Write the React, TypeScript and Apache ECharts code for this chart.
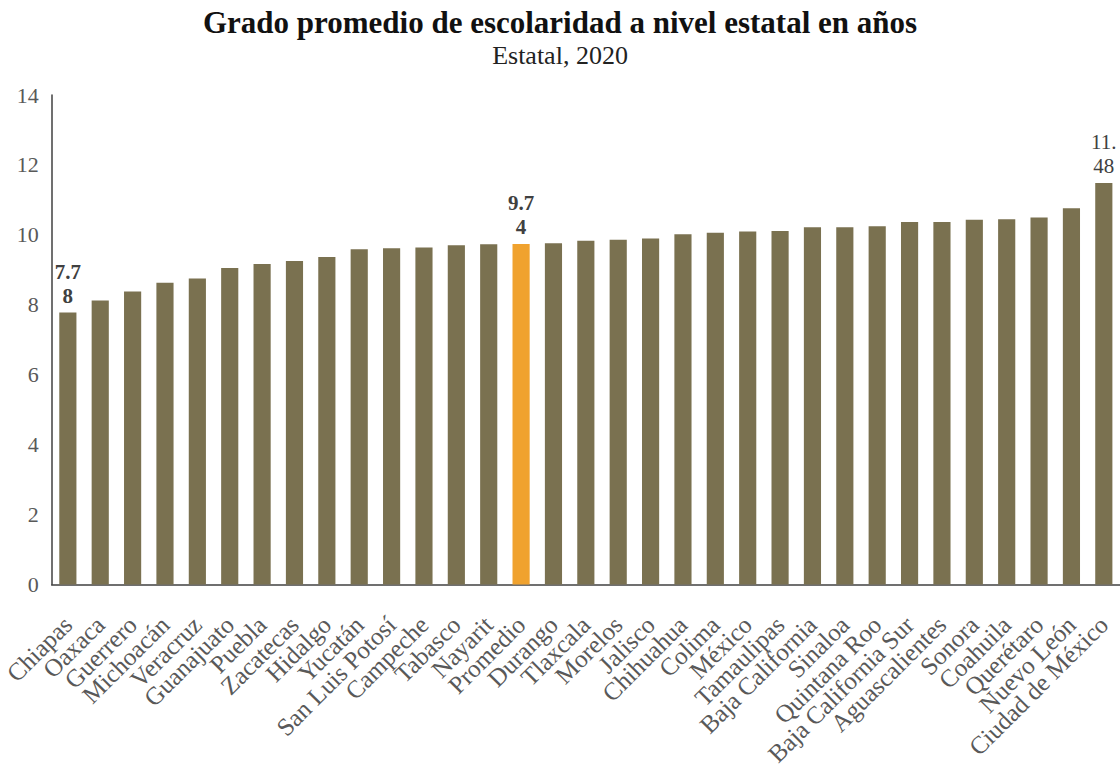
import React, { useEffect, useRef } from "react";
import * as echarts from "echarts";

const titleText = "Grado promedio de escolaridad a nivel estatal en años";
const subtitleText = "Estatal, 2020";

const states = [
  "Chiapas", "Oaxaca", "Guerrero", "Michoacán", "Veracruz", "Guanajuato", "Puebla",
  "Zacatecas", "Hidalgo", "Yucatán", "San Luis Potosí", "Campeche", "Tabasco", "Nayarit",
  "Promedio", "Durango", "Tlaxcala", "Morelos", "Jalisco", "Chihuahua", "Colima", "México",
  "Tamaulipas", "Baja California", "Sinaloa", "Quintana Roo", "Baja California Sur",
  "Aguascalientes", "Sonora", "Coahuila", "Querétaro", "Nuevo León", "Ciudad de México",
];

const values = [
  7.78, 8.12, 8.38, 8.63, 8.75, 9.05, 9.17, 9.25, 9.37, 9.59, 9.62, 9.64, 9.7, 9.73,
  9.74, 9.76, 9.83, 9.86, 9.9, 10.02, 10.06, 10.1, 10.11, 10.22, 10.22, 10.25, 10.37,
  10.37, 10.43, 10.45, 10.5, 10.76, 11.48,
];

const labelled = ["Chiapas", "Promedio", "Ciudad de México"];
const labelTexts = ["7.7\n8", "9.7\n4", "11.\n48"];
const highlight = "Promedio";

const yTicks = [0, 14, 2];

const SERIF = "'Liberation Serif', 'Times New Roman', serif";

export default function App() {
  const ref = useRef<HTMLDivElement>(null);
  useEffect(() => {
    if (!ref.current) return;
    const chart = echarts.init(ref.current, undefined, { renderer: "svg" });
    const data = values.map((v, i) => {
      const name = states[i];
      const li = labelled.indexOf(name);
      return {
        value: v,
        itemStyle: { color: name === highlight ? "#F0A22E" : "#7A7150" },
        label: li >= 0
          ? {
              show: true,
              position: "top",
              distance: 5,
              formatter: labelTexts[li],
              fontFamily: SERIF,
              fontSize: 21,
              fontWeight: li === 2 ? "normal" : "bold",
              color: "#404040",
              lineHeight: 24,
            }
          : { show: false },
      };
    });
    chart.setOption({
      animation: false,
      backgroundColor: "#ffffff",
      title: [
        {
          text: titleText,
          left: "center",
          top: 2,
          textStyle: { fontFamily: SERIF, fontSize: 31, fontWeight: "bold", color: "#111111" },
        },
        {
          text: subtitleText,
          left: "center",
          top: 37,
          textStyle: { fontFamily: SERIF, fontSize: 26, fontWeight: "normal", color: "#222222" },
        },
      ],
      grid: { left: 48, right: 0, top: 95, bottom: 184, containLabel: false },
      xAxis: {
        type: "category",
        data: states,
        axisLine: { show: true, lineStyle: { color: "#404040", width: 1.5 } },
        axisTick: { show: false },
        axisLabel: {
          rotate: 45,
          interval: 0,
          margin: 36,
          fontFamily: SERIF,
          fontSize: 25,
          color: "#595959",
        },
      },
      yAxis: {
        type: "value",
        min: yTicks[0],
        max: yTicks[1],
        interval: yTicks[2],
        axisLine: { show: true, lineStyle: { color: "#404040", width: 1.5 } },
        axisTick: { show: false },
        splitLine: { show: false },
        axisLabel: {
          margin: 13,
          fontFamily: SERIF,
          fontSize: 22,
          color: "#595959",
        },
      },
      series: [
        {
          type: "bar",
          data,
          barCategoryGap: "47%",
        },
      ],
    });
    return () => chart.dispose();
  }, []);
  return (
    <div
      ref={ref}
      style={{ position: "fixed", left: 0, top: 0, width: 1120, height: 769, background: "#fff" }}
    />
  );
}
